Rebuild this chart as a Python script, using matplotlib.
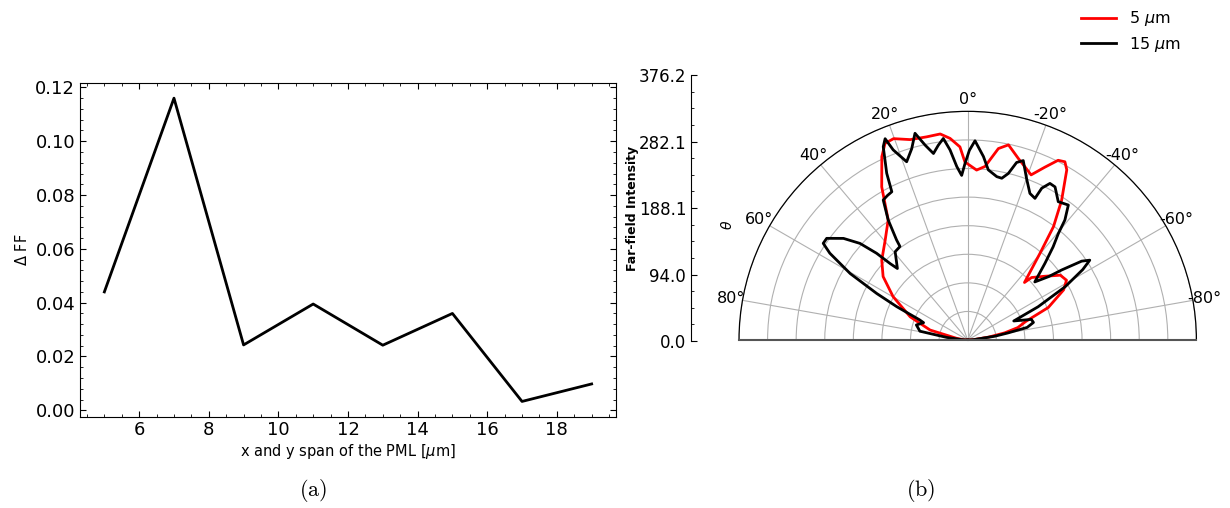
import matplotlib.pyplot as plt
import numpy as np
from matplotlib.ticker import AutoMinorLocator
from matplotlib.lines import Line2D

plt.rcParams['mathtext.fontset'] = 'dejavusans'

# (a) far-field difference vs PML span
pml_span = [5, 7, 9, 11, 13, 15, 17, 19]
delta_ff = [0.044, 0.116, 0.0243, 0.0395, 0.0242, 0.036, 0.0033, 0.0098]

# (b) far-field patterns, angle in degrees
theta_5um = [-90, -86, -82, -79, -76, -72.3, -68, -62.4, -58.8, -55, -50, -45.6, -44.6,
             -39.8, -37.1, -33.9, -30.2, -28.6, -26.7, -24, -21, -18.3, -15.6, -11.8,
             -9.1, -5.7, -3.0, 0.9, 2.3, 5, 7.6, 11.4, 16, 20.2, 22.8, 25.1, 29.3, 33.5,
             39.6, 47.1, 53.1, 59.8, 68, 75.1, 81.4, 86, 90]
ff_5um = [0, 10, 35, 62, 85, 100, 143, 178, 190, 186, 163, 147, 133,
          186, 234, 277, 324, 334, 331, 311, 291, 300, 310, 328,
          319, 287, 280, 293, 318, 333, 342, 341, 343, 353, 351, 333, 289, 237,
          213, 193, 174, 142, 102, 64, 18, 6, 0]

theta_15um = [-90, -86, -82, -80, -78, -75, -72, -67.5, -64.7, -61.3, -58.5, -56.8, -55.3,
              -53.3, -51.9, -49.1, -45.2, -42.5, -40.4, -39.0, -36.7, -33.2, -29.7, -27.7,
              -26.0, -25.4, -23.0, -20.0, -17.2, -15.4, -13.7, -11.9, -10.1, -6.9, -4.9,
              -2.1, -0.5, 0.9, 2.1, 3.6, 5.3, 6.9, 8.6, 10.4, 12.3, 14.3, 16.3, 18.9, 21.4,
              22.3, 23.6, 25.9, 27.1, 29, 31.1, 33.5, 35.4, 35.9, 39.4, 44.5, 45.4, 46.4,
              48.1, 50.7, 54.2, 56.2, 57.8, 60.5, 62.9, 64.8, 67.2, 68.5, 73.6, 79.5, 82.8,
              86, 90]
ff_15um = [0, 10, 45, 67, 100, 112, 110, 82, 128, 183, 222, 240, 228,
           193, 169, 146, 179, 208, 230, 254, 277, 272, 290, 291,
           278, 258, 262, 283, 309, 303, 282, 272, 273, 282, 303,
           328, 312, 290, 271, 286, 314, 334, 324, 312, 328, 351, 328, 310, 336,
           358, 347, 305, 274, 272, 269, 237, 202, 190, 188, 165, 179, 207,
           238, 264, 286, 286, 268, 222, 168, 129, 86, 78, 88, 80, 35,
           10, 0]

r_max = 376.2
r_ticks = [0.0, 94.0, 188.1, 282.1, 376.2]
legend_labels = [r'5 $\mu$m', r'15 $\mu$m']

fig = plt.figure(figsize=(12.3, 5.08), dpi=100)

# left panel
ax1 = fig.add_axes([80 / 1230, 91.4 / 508, 536 / 1230, 333.6 / 508])
ax1.plot(pml_span, delta_ff, color='black', lw=2)
ax1.set_xticks([6, 8, 10, 12, 14, 16, 18])
ax1.set_yticks([0.0, 0.02, 0.04, 0.06, 0.08, 0.10, 0.12])
ax1.set_yticklabels(['0.00', '0.02', '0.04', '0.06', '0.08', '0.10', '0.12'])
ax1.xaxis.set_minor_locator(AutoMinorLocator(4))
ax1.yaxis.set_minor_locator(AutoMinorLocator(5))
ax1.tick_params(which='both', direction='in', top=True, right=True, labelsize=13)
ax1.tick_params(which='major', length=4)
ax1.tick_params(which='minor', length=2)
ax1.set_xlabel(r'x and y span of the PML [$\mu$m]', fontsize=10.5, labelpad=2)
ax1.set_ylabel(r'$\Delta$ FF', fontsize=10.5)

# right panel: half polar (box is square, the half disc sits in its middle)
R = 228.7
ax2 = fig.add_axes([(967.7 - R) / 1230, (508 - 225.7 - R) / 508, 2 * R / 1230, 2 * R / 508],
                   projection='polar')
ax2.plot(np.deg2rad(theta_5um), ff_5um, color='red', lw=2)
ax2.plot(np.deg2rad(theta_15um), ff_15um, color='black', lw=2)
ax2.set_theta_zero_location('N')
ax2.set_thetamin(-90)
ax2.set_thetamax(90)
ax2.set_ylim(0, r_max)
ax2.set_rticks(np.linspace(0, r_max, 9)[1:])
ax2.set_yticklabels([])
ax2.set_thetagrids(np.arange(-80, 81, 20), [f'{a}°' for a in range(-80, 81, 20)])
ax2.tick_params(axis='x', labelsize=11.5, pad=-2)
ax2.grid(True, color='#b0b0b0', lw=0.8)
ax2.spines['polar'].set_linewidth(0.9)
ax2.spines['start'].set_color('#555555')
ax2.spines['end'].set_color('#555555')
ax2.spines['start'].set_linewidth(1.5)
ax2.spines['end'].set_linewidth(1.5)

# intensity scale next to the polar panel
ax3 = fig.add_axes([691 / 1230, 167 / 508, 0.0005, 266 / 508])
ax3.set_ylim(0, r_max)
ax3.set_yticks(r_ticks)
ax3.set_yticklabels([f'{v:.1f}' for v in r_ticks])
ax3.yaxis.set_minor_locator(AutoMinorLocator(4))
ax3.set_xticks([])
for s in ['top', 'right', 'bottom']:
    ax3.spines[s].set_visible(False)
ax3.patch.set_visible(False)
ax3.tick_params(which='both', direction='in', labelsize=12)
ax3.tick_params(which='major', length=4)
ax3.tick_params(which='minor', length=2)
ax3.set_ylabel('Far-field Intensity', fontsize=9, fontweight='bold', labelpad=0)

fig.text(727 / 1230, 1 - 225 / 508, r'$\theta$', rotation=90, fontsize=10,
         ha='center', va='center')

handles = [Line2D([], [], color='red', lw=2), Line2D([], [], color='black', lw=2)]
fig.legend(handles, legend_labels, loc='upper right', bbox_to_anchor=(1195 / 1230, 1.01),
           frameon=False, fontsize=11.5, handlelength=2.2, labelspacing=0.4)

fig.text(313 / 1230, 1 - 490 / 508, r'$\mathrm{(a)}$', fontsize=16, ha='center',
         va='center', math_fontfamily='cm')
fig.text(921 / 1230, 1 - 490 / 508, r'$\mathrm{(b)}$', fontsize=16, ha='center',
         va='center', math_fontfamily='cm')

fig.savefig('out.png', dpi=100)
